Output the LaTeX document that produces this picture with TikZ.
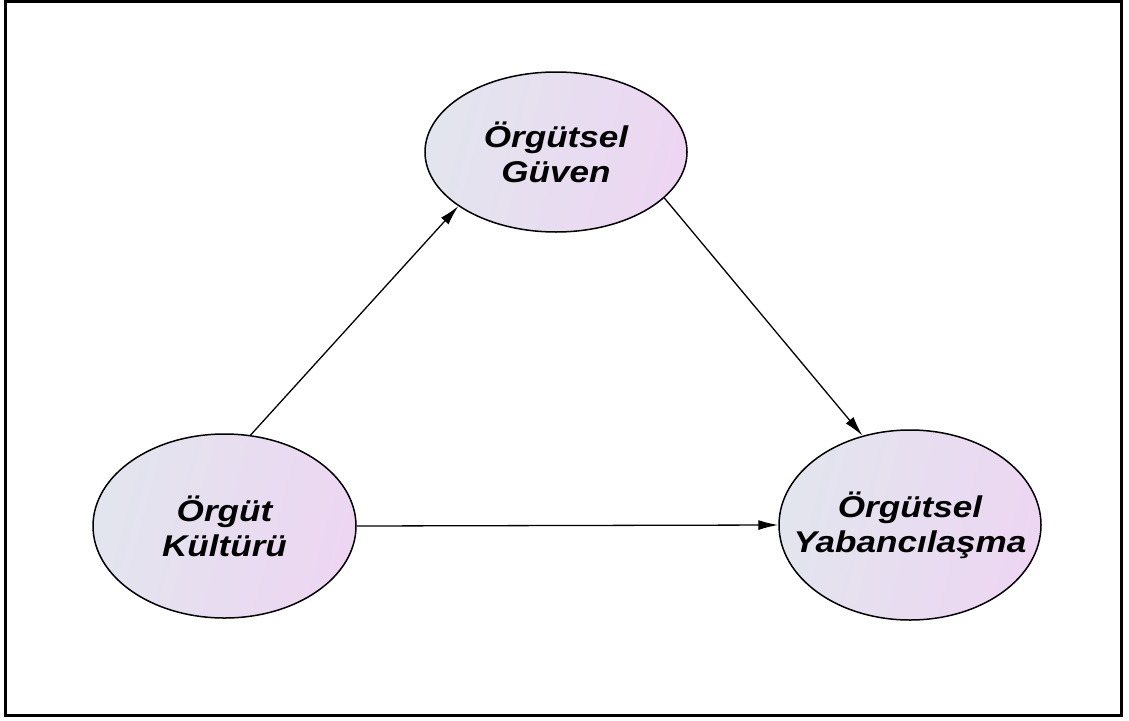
\documentclass[tikz,border=0pt]{standalone}
\usepackage{fontspec}
\newfontfamily\lblfont{Liberation Sans}[FakeStretch=1.17]
\usetikzlibrary{shapes.geometric,arrows.meta}
\definecolor{fillL}{RGB}{226,229,238}
\definecolor{fillR}{RGB}{237,214,242}
\tikzset{
  construct/.style={ellipse, draw, line width=1.5pt, inner sep=0pt,
    left color=fillL, right color=fillR, shading angle=75},
  caption/.style={align=center, inner sep=0pt,
    font=\lblfont\bfseries\itshape\fontsize{30}{35}\selectfont},
  link/.style={line width=1.3pt, -{Latex[length=20pt,width=10pt]}}
}
\begin{document}
\begin{tikzpicture}[x=1pt,y=-1pt]
  \useasboundingbox (0,0) rectangle (1129,720);
  % outer frame
  \draw[line width=3pt] (5.5,1.7) rectangle (1121.7,715.3);
  % constructs
  \node[construct, minimum width=262pt, minimum height=160pt,
        label={[caption]center:Örgütsel\\Güven}] (guven) at (556,152) {};
  \node[construct, minimum width=263pt, minimum height=184pt,
        label={[caption]center:Örgüt\\Kültürü}] (kultur) at (224.5,526) {};
  \node[construct, minimum width=262pt, minimum height=190pt,
        label={[caption]center:Örgütsel\\Yabancılaşma}] (yab) at (910,525) {};
  % relations
  \draw[link] (kultur.74) -- (guven.209);
  \draw[link] (guven.337) -- (yab.118);
  \draw[link] (kultur.0) -- (yab.180);
\end{tikzpicture}
\end{document}
